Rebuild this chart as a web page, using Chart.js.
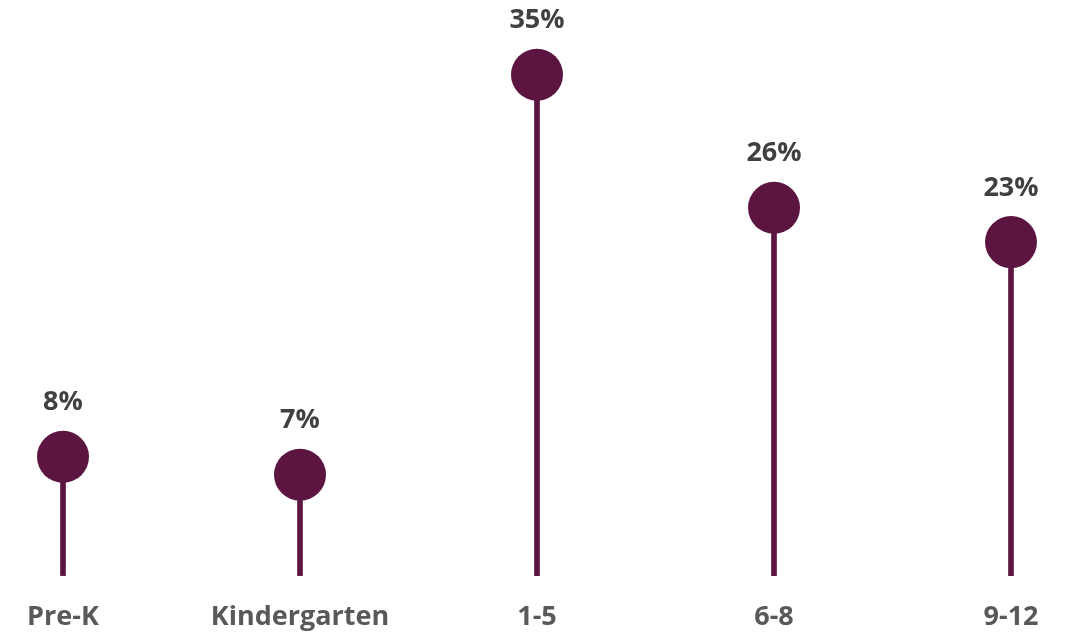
<!DOCTYPE html>
<html>
<head>
<meta charset="utf-8">
<script src="https://cdn.jsdelivr.net/npm/chart.js@4.4.1/dist/chart.umd.min.js"></script>
<style>
  html, body { margin: 0; padding: 0; background: #ffffff; }
  #wrap { width: 1069px; height: 635px; position: relative; }
</style>
</head>
<body>
<div id="wrap"><canvas id="c"></canvas></div>
<script>
const categories = ["Pre-K", "Kindergarten", "1-5", "6-8", "9-12"];
const shares = [8.3, 7.05, 35, 25.7, 23.3];
const valueLabels = ["8%", "7%", "35%", "26%", "23%"];

const MARK = "#5c1541";
const FONT = "'Open Sans', Lato, sans-serif";

const valueLabelPlugin = {
  id: "valueLabels",
  afterDatasetsDraw(chart) {
    const meta = chart.getDatasetMeta(1);
    const ctx = chart.ctx;
    ctx.save();
    ctx.font = "bold 27px " + FONT;
    ctx.fillStyle = "#404040";
    ctx.textAlign = "center";
    ctx.textBaseline = "middle";
    meta.data.forEach((pt, i) => {
      ctx.fillText(valueLabels[i], pt.x, pt.y - 54);
    });
    ctx.restore();
  }
};

new Chart(document.getElementById("c"), {
  type: "bar",
  data: {
    labels: categories,
    datasets: [
      {
        type: "bar",
        data: shares,
        backgroundColor: MARK,
        barThickness: 5,
        clip: false,
        order: 2
      },
      {
        type: "line",
        data: shares,
        showLine: false,
        pointRadius: 26,
        pointHoverRadius: 26,
        pointBackgroundColor: MARK,
        pointBorderWidth: 0,
        clip: false,
        order: 1
      }
    ]
  },
  options: {
    responsive: true,
    maintainAspectRatio: false,
    animation: false,
    layout: { padding: { left: 63, right: 58, top: 3, bottom: -25 } },
    plugins: { legend: { display: false }, tooltip: { enabled: false } },
    scales: {
      x: {
        offset: false,
        grid: { display: false, drawTicks: false },
        border: { display: false },
        ticks: {
          color: "#595959",
          font: { family: FONT, size: 27, weight: "bold" },
          padding: 26,
          maxRotation: 0,
          autoSkip: false
        }
      },
      y: {
        display: false,
        min: 0,
        max: 38.4
      }
    }
  },
  plugins: [valueLabelPlugin]
});
</script>
</body>
</html>
